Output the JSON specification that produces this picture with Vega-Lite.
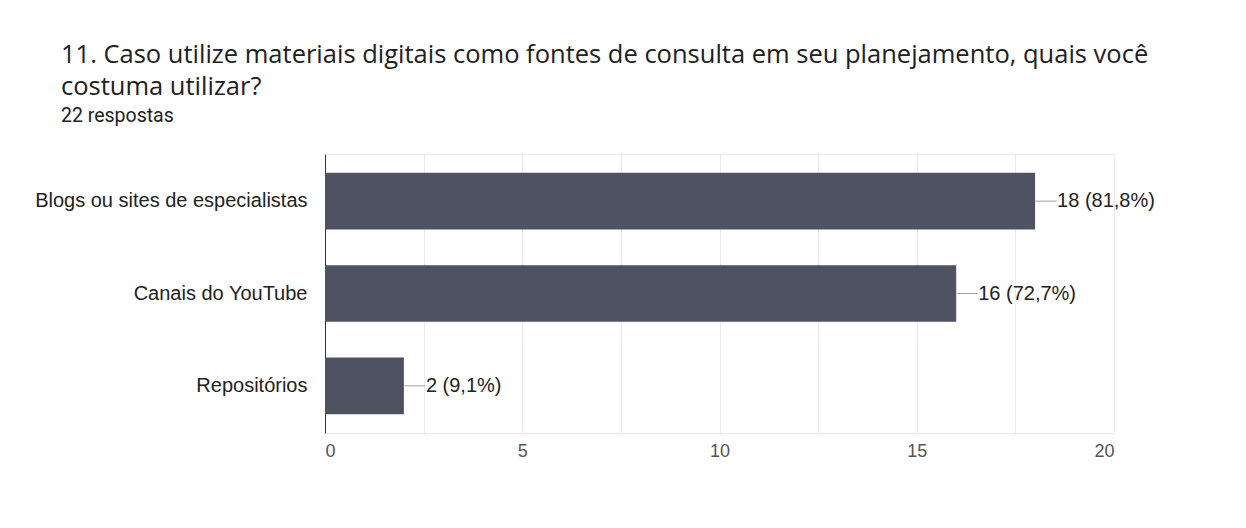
{
  "$schema": "https://vega.github.io/schema/vega-lite/v6.json",
  "width": 789,
  "height": 279,
  "autosize": {"type": "none"},
  "padding": {"left": 325, "top": 154, "right": 132, "bottom": 95},
  "background": "white",
  "title": {
    "text": ["11. Caso utilize materiais digitais como fontes de consulta em seu planejamento, quais você", "costuma utilizar?"],
    "subtitle": "22 respostas",
    "anchor": "start",
    "frame": "group",
    "dx": -264,
    "font": "Open Sans",
    "fontSize": 25.5,
    "fontWeight": "normal",
    "lineHeight": 32,
    "color": "#202124",
    "subtitleFont": "Roboto",
    "subtitleFontSize": 19.5,
    "subtitleColor": "#202124",
    "subtitlePadding": 6,
    "offset": 29
  },
  "data": {
    "values": [
      {"fonte": "Blogs ou sites de especialistas", "respostas": 18, "rotulo": "18 (81,8%)"},
      {"fonte": "Canais do YouTube", "respostas": 16, "rotulo": "16 (72,7%)"},
      {"fonte": "Repositórios", "respostas": 2, "rotulo": "2 (9,1%)"}
    ]
  },
  "encoding": {
    "y": {
      "field": "fonte",
      "type": "nominal",
      "sort": null,
      "scale": {"paddingInner": 0.387, "paddingOuter": 0.204},
      "axis": {
        "title": null,
        "ticks": false,
        "grid": false,
        "domain": true,
        "domainColor": "#333333",
        "domainWidth": 1,
        "labelFont": "Liberation Sans",
        "labelFontSize": 20,
        "labelLimit": 400,
        "labelColor": "#222222",
        "labelPadding": 18
      }
    },
    "x": {
      "field": "respostas",
      "type": "quantitative",
      "scale": {"domain": [0, 20], "nice": false},
      "axis": {
        "title": null,
        "values": [0, 2.5, 5, 7.5, 10, 12.5, 15, 17.5, 20],
        "labelExpr": "datum.value % 5 === 0 ? datum.label : ''",
        "ticks": false,
        "domain": false,
        "grid": true,
        "gridColor": "#ebebeb",
        "gridWidth": 1,
        "labelFont": "Liberation Sans",
        "labelFontSize": 18,
        "labelColor": "#555555",
        "labelPadding": 9
      }
    }
  },
  "layer": [
    {"mark": {"type": "bar", "color": "#4f5361"}},
    {"mark": {"type": "tick", "orient": "horizontal", "size": 21, "thickness": 1, "xOffset": 11, "color": "#777777"}},
    {
      "mark": {"type": "text", "align": "left", "baseline": "middle", "dx": 22, "font": "Liberation Sans", "fontSize": 20, "color": "#222222"},
      "encoding": {"text": {"field": "rotulo"}}
    }
  ],
  "config": {
    "view": {"stroke": "#e8e8e8", "strokeWidth": 1}
  }
}
